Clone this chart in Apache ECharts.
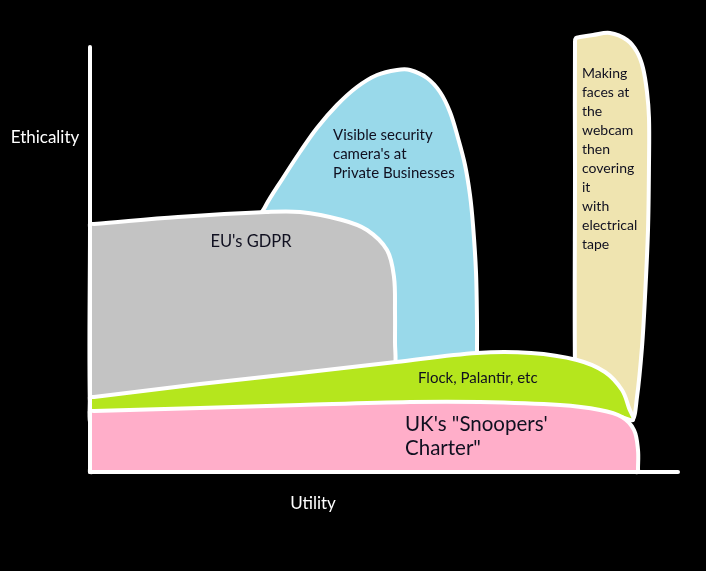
<!DOCTYPE html>
<html><head><meta charset="utf-8">
<script src="https://cdn.jsdelivr.net/npm/echarts@6/dist/echarts.min.js"></script>
<style>html,body{margin:0;padding:0;background:#000}#c{width:706px;height:571px}</style>
</head><body><div id="c"></div>
<script>
// Axis titles
const xAxisTitle = 'Utility';
const yAxisTitle = 'Ethicality';

// Region outlines as [utility, ethicality] points (arbitrary units)
const webcamTape = [[485,100],[485,300],[485,430],[486,434],[490,435],[503,437],[520,439],[537,432],[547,420],[553,404],[557,380],[559,354],[559,309],[558,242],[555,175],[552,125],[547,75],[542,52],[528,75],[505,95],[487,105]];
const securityCameras = [[175,265],[193,294],[210,320],[227,344],[247,367],[267,385],[287,397],[307,402],[320,402],[337,394],[350,380],[360,360],[368,334],[375,307],[380,277],[383,247],[386,200],[387,150],[387,119],[387,105],[300,105],[170,250]];
const gdpr = [[0,60],[0,245],[0,248],[4,248],[88,255],[176,260],[210,260],[252,252],[277,242],[297,222],[304,195],[305,160],[305,130],[305,105],[300,100],[4,62]];
const flockPalantir = [[0,50],[0,72],[0,75],[4,75],[110,88],[210,99],[306,110],[387,119],[441,119],[487,112],[515,100],[532,82],[539,64],[543,52],[530,55],[400,62],[200,58],[4,50]];
const snoopersCharter = [[0,0],[0,3],[0,58],[0,61],[4,61],[110,64],[210,67],[320,70],[390,70],[470,67],[510,62],[532,55],[544,42],[548,22],[548,3],[548,0],[544,0],[4,0]];

// Labels
const labelGdpr = "EU's GDPR";
const labelCameras = ["Visible security", "camera's at", "Private Businesses"];
const labelFlock = "Flock, Palantir, etc";
const labelSnoopers = ['UK\'s "Snoopers\'', 'Charter"'];
const labelWebcam = ["Making", "faces at", "the", "webcam", "then", "covering", "it", "with", "electrical", "tape"];

const regions = [
  {name: 'Webcam tape', pts: webcamTape, color: '#efe4b0'},
  {name: 'Security cameras', pts: securityCameras, color: '#99d9ea'},
  {name: "EU's GDPR", pts: gdpr, color: '#c3c3c3'},
  {name: 'Flock, Palantir', pts: flockPalantir, color: '#b5e61d'},
  {name: 'Snoopers Charter', pts: snoopersCharter, color: '#ffaec9'}
];

function regionSeries(r) {
  return {
    type: 'custom', name: r.name, coordinateSystem: 'cartesian2d',
    data: r.pts, silent: true, animation: false, z: 2,
    renderItem: function (params, api) {
      if (params.dataIndex !== 0) return null;
      const p = r.pts.map(d => api.coord(d));
      return {type: 'polygon', shape: {points: p, smooth: 0.35},
        style: {fill: r.color, stroke: '#ffffff', lineWidth: 4}};
    }
  };
}

const font = 'Lato';
const txt = '#101020';
function textEl(text, x, y, size, lh, align) {
  return {type: 'text', z: 100, style: {text: text, x: x, y: y, fill: txt,
    font: size + 'px ' + font, lineHeight: lh, align: align || 'left', verticalAlign: 'top'}};
}

const chart = echarts.init(document.getElementById('c'));
chart.setOption({
  backgroundColor: '#000000',
  animation: false,
  grid: {left: 90, top: 47, width: 588, height: 425},
  xAxis: {type: 'value', min: 0, max: 588, z: 10,
    axisLine: {show: true, lineStyle: {color: '#ffffff', width: 4}},
    axisTick: {show: false}, axisLabel: {show: false}, splitLine: {show: false}},
  yAxis: {type: 'value', min: 0, max: 425, z: 10,
    axisLine: {show: true, lineStyle: {color: '#ffffff', width: 4}},
    axisTick: {show: false}, axisLabel: {show: false}, splitLine: {show: false}},
  series: regions.map(regionSeries),
  graphic: [
    {type: 'text', z: 100, style: {text: yAxisTitle, x: 45, y: 138, fill: '#ffffff', font: '17px ' + font, align: 'center', verticalAlign: 'middle'}},
    {type: 'text', z: 100, style: {text: xAxisTitle, x: 313, y: 504, fill: '#ffffff', font: '17px ' + font, align: 'center', verticalAlign: 'middle'}},
    textEl(labelGdpr, 251, 232, 16.5, 20, 'center'),
    textEl(labelCameras.join('\n'), 333, 126, 15, 19),
    textEl(labelFlock, 418, 369, 15, 19),
    textEl(labelSnoopers.join('\n'), 405, 412, 20.5, 24),
    textEl(labelWebcam.join('\n'), 582, 64, 14, 19)
  ]
});
</script></body></html>
